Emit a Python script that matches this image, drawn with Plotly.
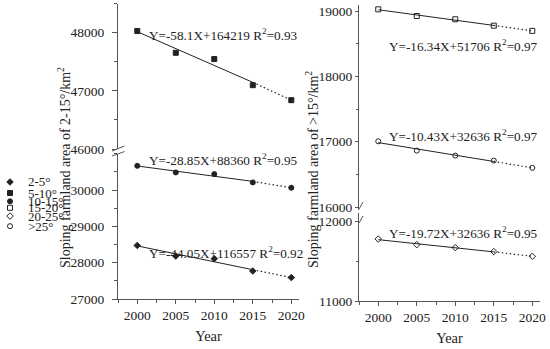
import numpy as np
import plotly.graph_objects as go

# ---------------- data ----------------
years = [2000, 2005, 2010, 2015, 2020]
area_2_5 = [28474, 28181, 28110, 27770, 27590]
area_5_10 = [48030, 47655, 47547, 47098, 46840]
area_10_15 = [30666, 30485, 30438, 30210, 30063]
area_15_20 = [19026, 18924, 18874, 18776, 18696]
area_20_25 = [11774, 11704, 11667, 11617, 11559]
area_gt25 = [17006, 16863, 16787, 16711, 16600]

legend_labels = ["2-5°", "5-10°", "10-15°", "15-20°", "20-25°", ">25°"]
legend_pos = [0, 1.2, 2.1, 2.8, 3.7, 4.8]
eq_2_5 = "Y=-44.05X+116557 R<sup>2</sup>=0.92"
eq_5_10 = "Y=-58.1X+164219 R<sup>2</sup>=0.93"
eq_10_15 = "Y=-28.85X+88360 R<sup>2</sup>=0.95"
eq_15_20 = "Y=-16.34X+51706 R<sup>2</sup>=0.97"
eq_20_25 = "Y=-19.72X+32636 R<sup>2</sup>=0.95"
eq_gt25 = "Y=-10.43X+32636 R<sup>2</sup>=0.97"

left_title = "Sloping farmland area of 2-15°/km<sup>2</sup>"
right_title = "Sloping farmland area of >15°/km<sup>2</sup>"
x_title = "Year"

# ---------------- styling ----------------
W, H = 550, 349
FONT = "Liberation Serif, Times New Roman, serif"
INK = "#222222"
AX = "#555555"


def px(x):
    return x / W


def py(y):
    return 1 - y / H


series = [
    (area_2_5, "diamond", "x", "y"),
    (area_5_10, "square", "x", "y2"),
    (area_10_15, "circle", "x", "y"),
    (area_15_20, "square-open", "x2", "y4"),
    (area_20_25, "diamond-open", "x2", "y3"),
    (area_gt25, "circle-open", "x2", "y4"),
]

fig = go.Figure()
yrs = np.array(years, dtype=float)
for vals, sym, xa, ya in series:
    v = np.array(vals, dtype=float)
    k, b = np.polyfit(yrs[:4], v[:4], 1)
    fit = k * yrs[:4] + b
    fig.add_trace(go.Scatter(x=yrs[:4], y=fit, mode="lines", xaxis=xa, yaxis=ya,
                             line=dict(color=INK, width=1), showlegend=False, hoverinfo="skip"))
    fig.add_trace(go.Scatter(x=[yrs[3], yrs[4]], y=[fit[3], v[4]], mode="lines", xaxis=xa, yaxis=ya,
                             line=dict(color=INK, width=1.2, dash="1.5px,2.5px"), showlegend=False,
                             hoverinfo="skip"))
    fig.add_trace(go.Scatter(x=yrs, y=v, mode="markers", xaxis=xa, yaxis=ya,
                             marker=dict(symbol=sym, size=5, color=INK, line=dict(color=INK, width=1)),
                             showlegend=False))

# custom legend (markers on a hidden helper axis)
leg_symbols = ["diamond", "square", "circle", "square-open", "diamond-open", "circle-open"]
fig.add_trace(go.Scatter(x=[10] * len(legend_pos), y=legend_pos, mode="markers", xaxis="x3", yaxis="y5",
                         marker=dict(symbol=leg_symbols, size=5, color=INK, line=dict(color=INK, width=1)),
                         showlegend=False, hoverinfo="skip"))

tickfont = dict(family=FONT, size=13.5, color=INK)
titlefont = dict(family=FONT, size=14.5, color=INK)
base_axis = dict(showline=True, linecolor=AX, linewidth=1, ticks="outside", ticklen=5,
                 tickcolor=AX, tickwidth=1, showgrid=False, zeroline=False, tickfont=tickfont,
                 automargin=False, tickformat="d")

xaxis_common = dict(base_axis, range=[1997.5, 2021], tickmode="linear", tick0=2000, dtick=5, ticklen=4,
                    minor=dict(ticks="outside", ticklen=2.5, tickcolor=AX, tick0=2000, dtick=2.5),
                    title=dict(text=x_title, font=titlefont, standoff=8))

left_minor = dict(ticks="outside", ticklen=3, tickcolor=AX, tickmode="linear", dtick=500)
right_minor = dict(ticks="outside", ticklen=2, tickcolor=AX, tickmode="linear", dtick=500)

fig.update_layout(
    template="none",
    width=W, height=H, margin=dict(l=0, r=0, t=0, b=0, autoexpand=False),
    paper_bgcolor="white", plot_bgcolor="rgba(0,0,0,0)",
    font=dict(family=FONT, color=INK),
    xaxis=dict(xaxis_common, domain=[px(118), px(299)], anchor="y"),
    yaxis=dict(base_axis, domain=[py(299), py(153.7)], range=[27000, 31000], anchor="x",
               tickmode="array", tickvals=[27000, 28000, 29000, 30000], ticklabelstandoff=5,
               minor=dict(left_minor, tick0=27000)),
    yaxis2=dict(base_axis, domain=[py(149), py(3.7)], range=[46000, 48500], anchor="x",
                tickmode="array", tickvals=[46000, 47000, 48000], ticklabelstandoff=5,
                minor=dict(left_minor, tick0=46000)),
    xaxis2=dict(xaxis_common, domain=[px(359), px(540)], anchor="y3"),
    yaxis3=dict(base_axis, domain=[py(301), py(213)], range=[11000, 12100], anchor="x2",
                tickmode="array", tickvals=[11000, 12000], ticklen=3, ticklabelstandoff=0,
                minor=dict(right_minor, tick0=11000)),
    yaxis4=dict(base_axis, domain=[py(210.3), py(4.5)], range=[15950, 19100], anchor="x2",
                tickmode="array", tickvals=[16000, 17000, 18000, 19000], ticklen=3, ticklabelstandoff=0,
                minor=dict(right_minor, tick0=16000)),
    xaxis3=dict(domain=[0, px(40)], range=[0, 40], visible=False, anchor="y5", automargin=False),
    yaxis5=dict(domain=[py(235), py(175)], range=[5.76, -0.76], visible=False, anchor="x3", automargin=False),
)

ann = []
eqfont = dict(family=FONT, size=13.2, color=INK)
for text, x, y in [(eq_5_10, 147, 34), (eq_10_15, 147, 159), (eq_2_5, 147, 252),
                   (eq_15_20, 387, 46), (eq_gt25, 387, 135), (eq_20_25, 387, 232)]:
    ann.append(dict(text=text, x=px(x), y=py(y), xref="paper", yref="paper",
                    xanchor="left", yanchor="middle", showarrow=False, font=eqfont))

for pos, lab in zip(legend_pos, legend_labels):
    ann.append(dict(text=lab, x=26, y=pos, xref="x3", yref="y5", xanchor="left", yanchor="middle",
                    showarrow=False, font=dict(family=FONT, size=13, color=INK)))

vtitlefont = dict(family=FONT, size=14, color=INK)
ann.append(dict(text=left_title, x=px(64), y=py(168), xref="paper", yref="paper", textangle=-90,
                showarrow=False, font=vtitlefont, xanchor="center", yanchor="middle"))
ann.append(dict(text=right_title, x=px(312), y=py(170), xref="paper", yref="paper", textangle=-90,
                showarrow=False, font=vtitlefont, xanchor="center", yanchor="middle"))
fig.update_layout(annotations=ann)

# axis-break marks
shapes = []
for (x0, y0, x1, y1) in [(112, 151, 124.5, 146), (112, 156, 124.5, 151.5),
                         (359, 209, 363, 202), (359, 223, 363, 216)]:
    shapes.append(dict(type="line", xref="paper", yref="paper", x0=px(x0), y0=py(y0), x1=px(x1), y1=py(y1),
                       line=dict(color=AX, width=1)))
fig.update_layout(shapes=shapes)

fig.write_html("out.html", config={"displayModeBar": False},
               post_script="document.body.style.margin='0';document.body.style.padding='0';"
                           "document.body.style.overflow='hidden';")
